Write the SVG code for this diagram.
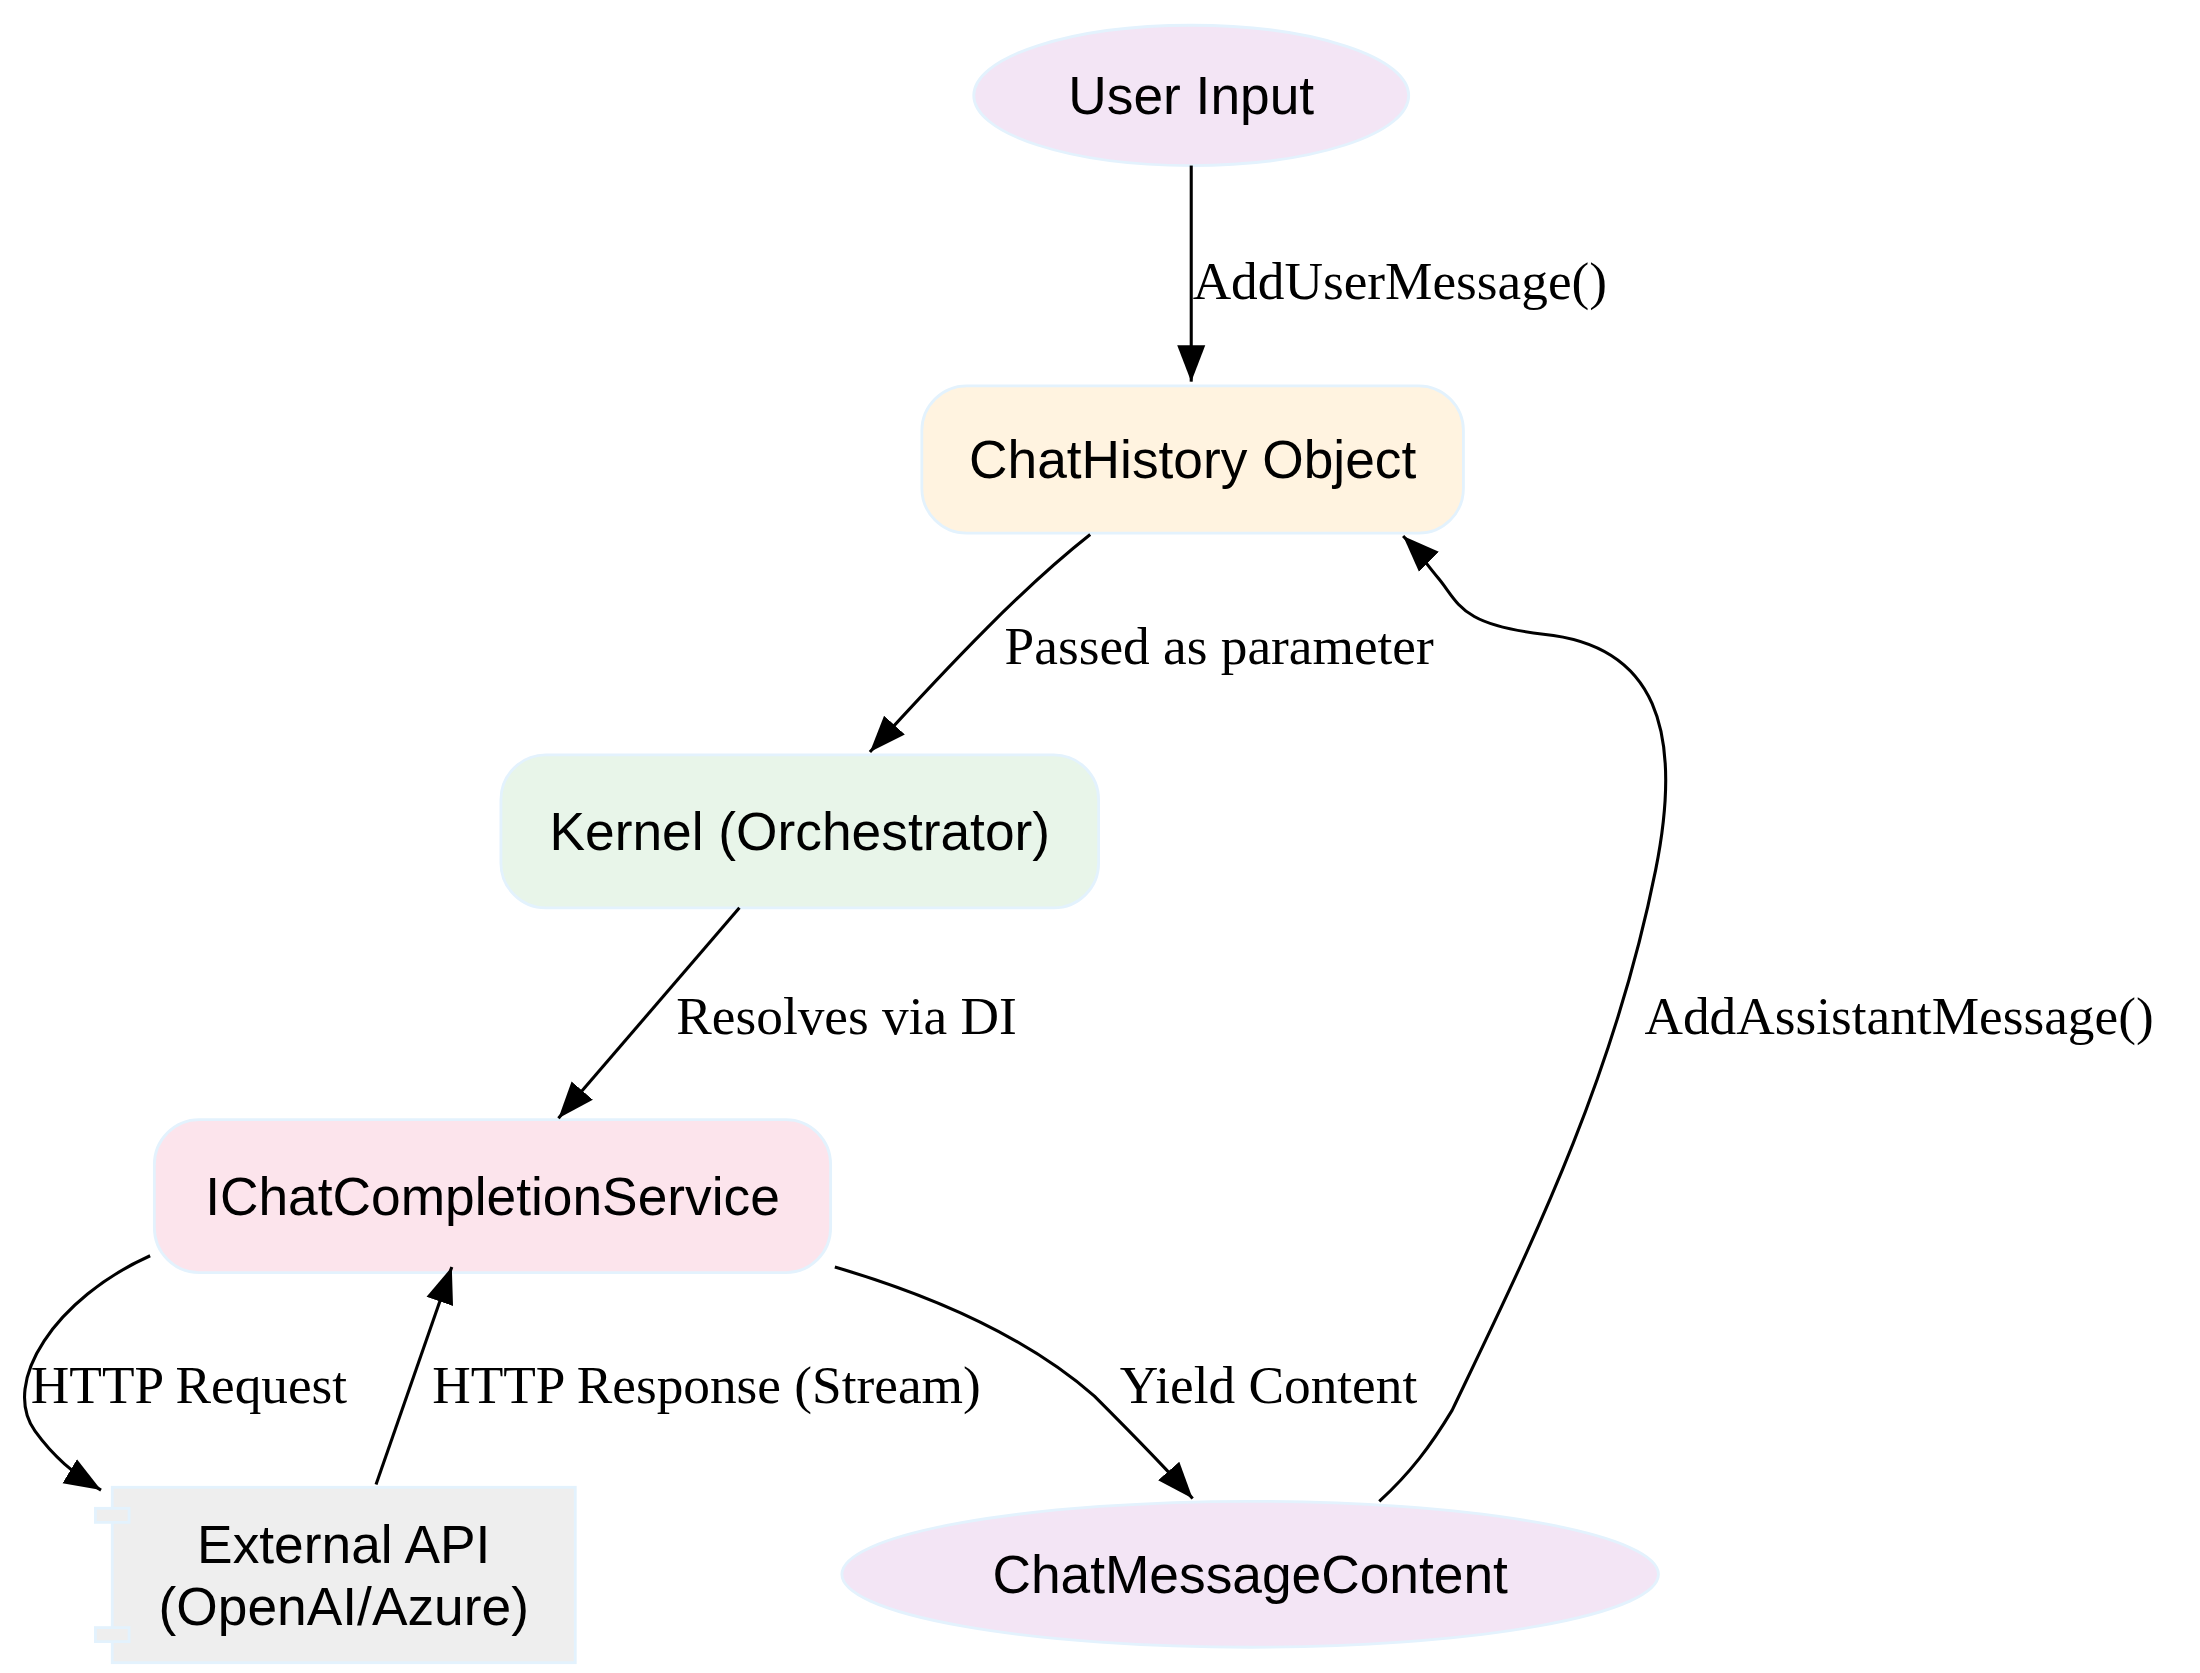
<svg xmlns="http://www.w3.org/2000/svg" width="2200" height="1673" viewBox="0 0 2200 1673">
<style>
.n{stroke:#e3f2fd;stroke-width:2}
.nt{font-family:"Liberation Sans",Arial,sans-serif;font-size:38px;text-anchor:middle;fill:#000}
.et{font-family:"Liberation Serif","Times New Roman",serif;font-size:38px;fill:#000}
.e{fill:none;stroke:#000;stroke-width:2.2}
</style>
<defs>
<marker id="a" markerUnits="userSpaceOnUse" markerWidth="30" markerHeight="24" refX="26" refY="12" orient="auto"><path d="M0,2 L26,12 L0,22 Z" fill="#000"/></marker>
</defs>
<rect width="2200" height="1673" fill="#fff"/>
<g transform="scale(1.4031)">
<g id="user"><ellipse class="n" cx="849" cy="68" rx="155" ry="50" fill="#f3e5f5"/><text class="nt" x="849" y="81">User Input</text></g>
<g id="history"><rect class="n" x="657" y="275" width="386" height="105" rx="32" fill="#fff3e0"/><text class="nt" x="850" y="341">ChatHistory Object</text></g>
<g id="kernel"><rect class="n" x="357" y="538" width="426" height="109" rx="32" fill="#e8f5e9"/><text class="nt" x="570" y="606">Kernel (Orchestrator)</text></g>
<g id="ichat"><rect class="n" x="110" y="798" width="482" height="109" rx="32" fill="#fce4ec"/><text class="nt" x="351" y="866">IChatCompletionService</text></g>
<g id="external"><rect class="n" x="80" y="1060" width="330" height="125" fill="#eeeeee"/><rect class="n" x="68" y="1075" width="24" height="10" fill="#eeeeee"/><rect class="n" x="68" y="1160" width="24" height="10" fill="#eeeeee"/><text class="nt" x="245" y="1114">External API</text><text class="nt" x="245" y="1158">(OpenAI/Azure)</text></g>
<g id="content"><ellipse class="n" cx="891" cy="1122" rx="291" ry="52" fill="#f3e5f5"/><text class="nt" x="891" y="1135">ChatMessageContent</text></g>
<g id="edges">
<path class="e" marker-end="url(#a)" d="M849,118 L849,272"/>
<text class="et" x="850" y="213">AddUserMessage()</text>
<path class="e" marker-end="url(#a)" d="M777,381 C730,418 680,470 620,536"/>
<text class="et" x="716" y="473">Passed as parameter</text>
<path class="e" marker-end="url(#a)" d="M527,647 L398,797"/>
<text class="et" x="482" y="737">Resolves via DI</text>
<path class="e" marker-end="url(#a)" d="M107,895 C40,925 0,985 25,1020 C38,1038 52,1050 72,1062"/>
<text class="et" x="22" y="1000">HTTP Request</text>
<path class="e" marker-end="url(#a)" d="M268,1058 L322,903"/>
<text class="et" x="308" y="1000">HTTP Response (Stream)</text>
<path class="e" marker-end="url(#a)" d="M595,903 C680,928 740,960 780,995 C805,1020 830,1045 850,1068"/>
<text class="et" x="798" y="1000">Yield Content</text>
<path class="e" marker-end="url(#a)" d="M983,1070 C1005,1050 1020,1030 1035,1005 C1090,890 1150,770 1180,620 C1200,520 1180,460 1100,452 C1040,445 1040,430 1025,412 C1015,400 1010,392 1000,382"/>
<text class="et" x="1172" y="737">AddAssistantMessage()</text>
</g>
</g>
</svg>
